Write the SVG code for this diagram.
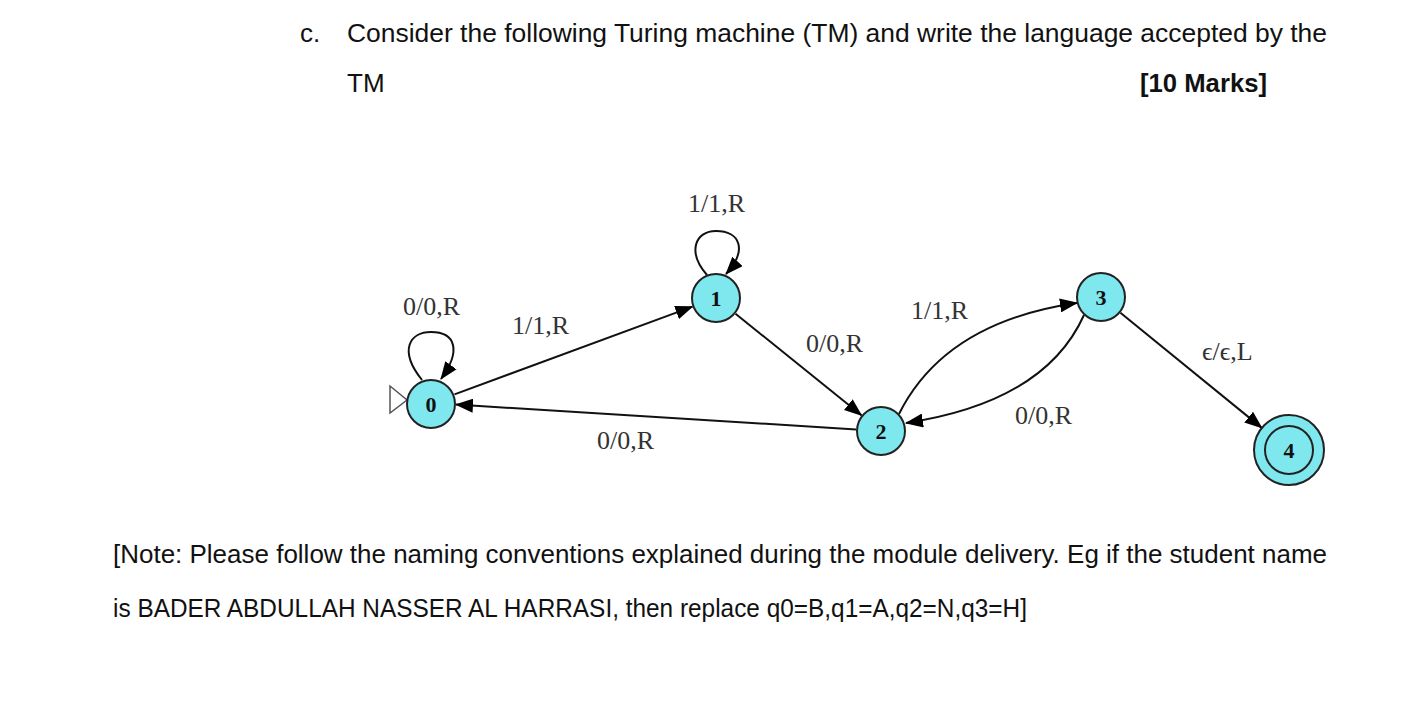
<svg xmlns="http://www.w3.org/2000/svg" width="1428" height="726" viewBox="0 0 1428 726">
<defs>
<style>
.hdr{font-family:"Liberation Sans",Arial,sans-serif;font-size:26px;fill:#111}
.lbl{font-family:"Liberation Serif","Times New Roman",serif;font-size:26px;fill:#333}
.st{fill:#7fe8ee;stroke:#222;stroke-width:2}
.num{font-family:"Liberation Serif","Times New Roman",serif;font-size:22px;font-weight:bold;fill:#111;text-anchor:middle}
.edge{fill:none;stroke:#111;stroke-width:2}
</style>
<marker id="arr" markerWidth="18" markerHeight="14" refX="17" refY="7" orient="auto" markerUnits="userSpaceOnUse">
<path d="M0,0 L18,7 L0,14 Z" fill="#000"/>
</marker>
</defs>
<rect width="1428" height="726" fill="#fff"/>
<text class="hdr" x="300" y="42">c.</text>
<text class="hdr" x="347" y="42" textLength="980" lengthAdjust="spacingAndGlyphs">Consider the following Turing machine (TM) and write the language accepted by the</text>
<text class="hdr" x="347" y="92">TM</text>
<text class="hdr" x="1140" y="92" font-weight="bold" textLength="127" lengthAdjust="spacingAndGlyphs">[10 Marks]</text>
<text class="hdr" x="113" y="563" textLength="1214" lengthAdjust="spacingAndGlyphs">[Note: Please follow the naming conventions explained during the module delivery. Eg if the student name</text>
<text class="hdr" x="113" y="617" textLength="914" lengthAdjust="spacingAndGlyphs">is BADER ABDULLAH NASSER AL HARRASI, then replace q0=B,q1=A,q2=N,q3=H]</text>

<g id="connectors">
<path class="edge" d="M422,380 C398,350 410,332 431,332 C455,332 462,350 441,379" marker-end="url(#arr)"/>
<path class="edge" d="M707,275 C687,252 695,231 716,231 C740,231 748,250 726,274" marker-end="url(#arr)"/>
<path class="edge" d="M454.5,394.4 L692.5,306.6" marker-end="url(#arr)"/>
<path class="edge" d="M735.5,313.7 L861.5,415.3" marker-end="url(#arr)"/>
<path class="edge" d="M856,429.4 L456,404.6" marker-end="url(#arr)"/>
<path class="edge" d="M899,414 Q945,322 1077,303" marker-end="url(#arr)"/>
<path class="edge" d="M1084,315 Q1045,402 906,423" marker-end="url(#arr)"/>
<path class="edge" d="M1120.4,312.8 L1261.8,427.9" marker-end="url(#arr)"/>
<path d="M390,386 L390,413 L407,400 Z" fill="#fff" stroke="#555" stroke-width="1.5"/>
<text class="lbl" x="403" y="315">0/0,R</text>
<text class="lbl" x="512" y="334">1/1,R</text>
<text class="lbl" x="688" y="212">1/1,R</text>
<text class="lbl" x="806" y="352">0/0,R</text>
<text class="lbl" x="911" y="319">1/1,R</text>
<text class="lbl" x="1015" y="424">0/0,R</text>
<text class="lbl" x="597" y="449">0/0,R</text>
<text class="lbl" x="1202" y="360" font-size="24">ϵ/ϵ,L</text>
</g>

<g id="q0"><circle class="st" cx="431" cy="404" r="24"/><text class="num" x="431" y="412">0</text></g>
<g id="q1"><circle class="st" cx="716" cy="298" r="24"/><text class="num" x="716" y="306">1</text></g>
<g id="q2"><circle class="st" cx="881" cy="431" r="24"/><text class="num" x="881" y="439">2</text></g>
<g id="q3"><circle class="st" cx="1101" cy="297" r="24"/><text class="num" x="1101" y="305">3</text></g>
<g id="q4"><circle class="st" cx="1289" cy="450" r="35"/><circle class="st" cx="1289" cy="450" r="24"/><text class="num" x="1289" y="458" font-weight="normal">4</text></g>
</svg>
